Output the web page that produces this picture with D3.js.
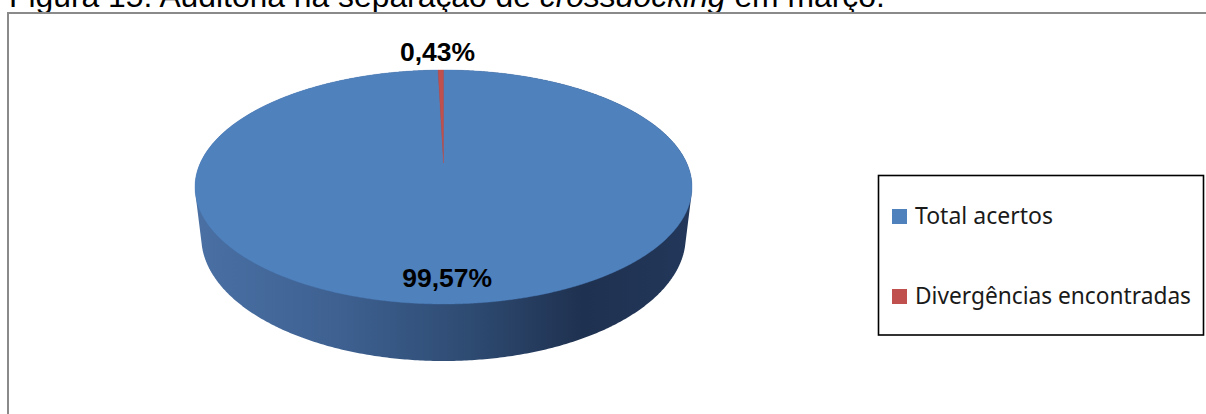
<!DOCTYPE html>
<html>
<head>
<meta charset="utf-8">
<script src="https://cdn.jsdelivr.net/npm/d3@7"></script>
<style>
  html, body { margin: 0; padding: 0; background: #fff; }
  svg { display: block; }
</style>
</head>
<body>
<svg id="chart" width="1206" height="414"></svg>
<script>
// Audit results for crossdocking picking in March
const categories = ["Total acertos", "Divergências encontradas"];
const values = [99.57, 0.43];
const sliceColors = ["#4F81BD", "#C0504D"];
const titleParts = [
  { text: "Figura 15: Auditoria na separação de ", italic: false },
  { text: "crossdocking", italic: true },
  { text: " em março.", italic: false }
];

const W = 1206, H = 414;
const svg = d3.select("#chart");

// Portuguese number format (decimal comma)
const ptBR = d3.formatLocale({ decimal: ",", thousands: ".", grouping: [3], currency: ["R$", ""] });
const fmtPct = v => ptBR.format(".2f")(v) + "%";

// Perspective camera for the 3D pie: unit disc, tilted toward the viewer
const cam = { cx: 443.5, cy: 163, f: 1052.4, D: 4.327, tilt: Math.asin(0.4608), depth: 0.2327 };
function project(angle, r, y) {
  const X = r * Math.sin(angle), Z = r * Math.cos(angle);
  const s = Math.sin(cam.tilt), c = Math.cos(cam.tilt);
  const yc = y * c + Z * s;
  const zc = cam.D + Z * c - y * s;
  return [cam.cx + cam.f * X / zc, cam.cy - cam.f * yc / zc];
}

// Title line (clipped at the top of the page)
const title = svg.append("text")
  .attr("x", 9).attr("y", 7)
  .attr("font-family", "'Liberation Sans', Arial, sans-serif")
  .attr("font-size", 28)
  .attr("fill", "#000");
titleParts.forEach(p => {
  title.append("tspan").text(p.text).attr("font-style", p.italic ? "italic" : "normal");
});
const tw = title.node().getComputedTextLength();
title.attr("font-size", 28 * 876 / tw);

// Chart frame
svg.append("rect")
  .attr("x", 8).attr("y", 13)
  .attr("width", 1400).attr("height", 600)
  .attr("fill", "#fff")
  .attr("stroke", "#8a8a8a").attr("stroke-width", 2);

// Side gradient
const defs = svg.append("defs");
const grad = defs.append("linearGradient")
  .attr("id", "sideGrad")
  .attr("gradientUnits", "userSpaceOnUse")
  .attr("x1", 195).attr("y1", 0).attr("x2", 692).attr("y2", 0);
[[0, "#4a70a4"], [0.3, "#3d6090"], [0.55, "#2e4b72"], [0.78, "#1f3150"], [1, "#22375a"]]
  .forEach(([o, c]) => grad.append("stop").attr("offset", o).attr("stop-color", c));

// Cylinder wall: convex hull of the top and bottom rims
const rim = [];
const steps = 720;
for (let i = 0; i < steps; i++) {
  const a = i / steps * 2 * Math.PI;
  rim.push(project(a, 1, 0));
  rim.push(project(a, 1, -cam.depth));
}
const hull = d3.polygonHull(rim);
svg.append("path")
  .attr("d", "M" + hull.map(p => p.join(",")).join("L") + "Z")
  .attr("fill", "url(#sideGrad)");

// Top face slices
const pie = d3.pie().sort(null).value(d => d);
const arcs = pie(values);
function slicePath(d) {
  const pts = [project(0, 0, 0)];
  const n = Math.max(2, Math.ceil((d.endAngle - d.startAngle) / (Math.PI / 720)));
  for (let i = 0; i <= n; i++) {
    const a = d.startAngle + (d.endAngle - d.startAngle) * i / n;
    pts.push(project(a, 1, 0));
  }
  return "M" + pts.map(p => p.join(",")).join("L") + "Z";
}
svg.append("g").selectAll("path")
  .data(arcs)
  .join("path")
  .attr("d", slicePath)
  .attr("fill", (d, i) => sliceColors[i])
  .attr("stroke", (d, i) => sliceColors[i])
  .attr("stroke-width", 0.4);

// Value labels
const labelRadius = [0.9, 1.12];
svg.append("g").selectAll("text")
  .data(arcs)
  .join("text")
  .attr("transform", (d, i) => {
    const mid = (d.startAngle + d.endAngle) / 2;
    const p = project(mid, labelRadius[i], 0);
    return `translate(${p[0] + (i === 1 ? -3 : 0)},${p[1]})`;
  })
  .attr("text-anchor", "middle")
  .attr("font-family", "'Liberation Sans', Arial, sans-serif")
  .attr("font-weight", "bold")
  .attr("font-size", 26.5)
  .attr("fill", "#000")
  .text(d => fmtPct(d.data));

// Legend
const legend = svg.append("g");
legend.append("rect")
  .attr("x", 878.5).attr("y", 175.5)
  .attr("width", 325).attr("height", 159.5)
  .attr("fill", "#fff")
  .attr("stroke", "#000").attr("stroke-width", 1.6);
const legendY = d3.scalePoint().domain(categories).range([224, 304]);
const legendWidths = [138, 276];
const items = legend.selectAll("g.item")
  .data(categories)
  .join("g")
  .attr("class", "item")
  .attr("transform", d => `translate(0,${legendY(d)})`);
items.append("rect")
  .attr("x", 892).attr("y", -15)
  .attr("width", 15).attr("height", 15)
  .attr("fill", (d, i) => sliceColors[i]);
items.append("text")
  .attr("x", 915).attr("y", 0)
  .attr("font-family", "'Noto Sans', 'Open Sans', sans-serif")
  .attr("font-size", 24)
  .attr("fill", "#1a1a1a")
  .attr("textLength", (d, i) => legendWidths[i])
  .attr("lengthAdjust", "spacingAndGlyphs")
  .text(d => d);
</script>
</body>
</html>
